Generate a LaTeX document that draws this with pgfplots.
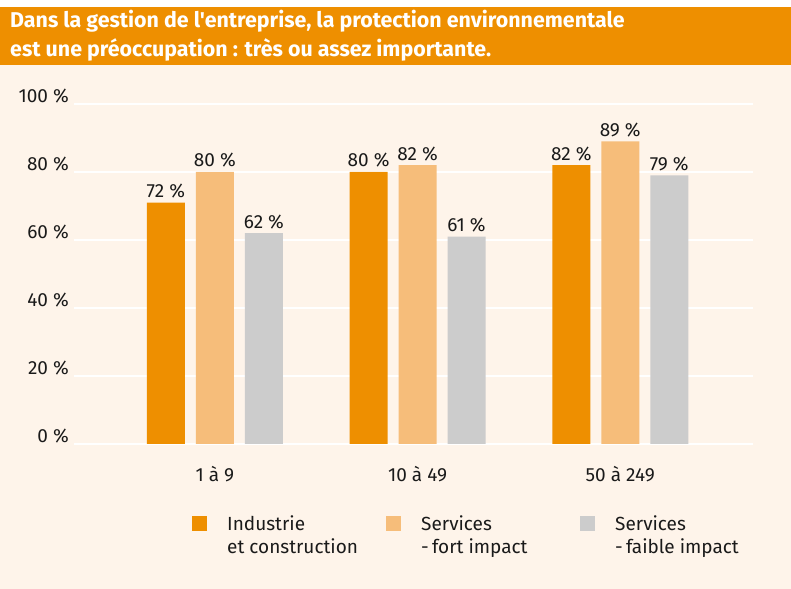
\documentclass[border=0pt]{standalone}
\usepackage{fontspec}
\setmainfont{Fira Sans}[Ligatures=TeXOff]
\usepackage{pgfplots}
\pgfplotsset{compat=1.18}
\definecolor{bg}{HTML}{FEF4EA}
\definecolor{band}{HTML}{EE8F00}
\definecolor{orA}{HTML}{EE8F00}
\definecolor{orB}{HTML}{F6BD7A}
\definecolor{grC}{HTML}{CCCCCC}
\definecolor{txt}{HTML}{1A1A1A}
\begin{document}
\begin{tikzpicture}[x=1bp,y=1bp,font=\fontsize{19bp}{23bp}\selectfont]
\useasboundingbox (0,0) rectangle (791,589);
\fill[white] (0,0) rectangle (791,589);
\fill[bg] (0,0) rectangle (791,524);
\fill[band] (0,524) rectangle (791,582);
\node[anchor=base west, inner sep=0pt, text=white, font=\bfseries\fontsize{21.4bp}{25bp}\selectfont] at (10,561) {Dans la gestion de l'entreprise, la protection environnementale};
\node[anchor=base west, inner sep=0pt, text=white, font=\bfseries\fontsize{21.4bp}{25bp}\selectfont] at (10,532) {est une préoccupation : très ou assez importante.};
\begin{axis}[
  at={(74bp,145bp)}, anchor=south west,
  scale only axis, width=679bp, height=340bp,
  xmin=-0.695, xmax=2.655, ymin=0, ymax=100,
  axis line style={draw=none},
  ymajorgrids, grid style={white, line width=1.6bp},
  major tick length=0pt,
  ytick={0,20,40,60,80,100},
  yticklabels={0~\%,20~\%,40~\%,60~\%,80~\%,100~\%},
  yticklabel style={anchor=base east, inner sep=0pt, xshift=-5bp, yshift=1bp, text=txt},
  xtick={0,1,2},
  xticklabels={1 à 9, 10 à 49, 50 à 249},
  xticklabel style={anchor=base, inner sep=0pt, yshift=-38bp, text=txt},
  ybar, bar width=38bp,
  point meta=explicit symbolic,
  nodes near coords={\pgfplotspointmeta~\%},
  nodes near coords style={anchor=base, inner sep=0pt, yshift=5bp, text=txt},
  legend columns=3,
  legend style={at={(rel axis cs:0.1738,-0.2088)}, anchor=north west, draw=none, fill=none,
    inner sep=0pt, column sep=0pt, nodes={anchor=base west, inner sep=0pt, text=txt}},
  legend image code/.code={\fill[#1] (0bp,-1bp) rectangle (15bp,14bp);},
]
\addplot[fill=orA, draw=none, bar shift=-49bp] coordinates {(0,71) [72] (1,80) [80] (2,82) [82]};
\addplot[fill=orB, draw=none, bar shift=0bp] coordinates {(0,80) [80] (1,82) [82] (2,89) [89]};
\addplot[fill=grC, draw=none, bar shift=49bp] coordinates {(0,62) [62] (1,61) [61] (2,79) [79]};
\legend{\hspace*{20bp}\parbox[t]{159bp}{Industrie\\et construction},
        \hspace*{20bp}\parbox[t]{159bp}{Services\\-\,fort impact},
        \hspace*{20bp}\parbox[t]{159bp}{Services\\-\,faible impact}}
\end{axis}
\end{tikzpicture}
\end{document}
